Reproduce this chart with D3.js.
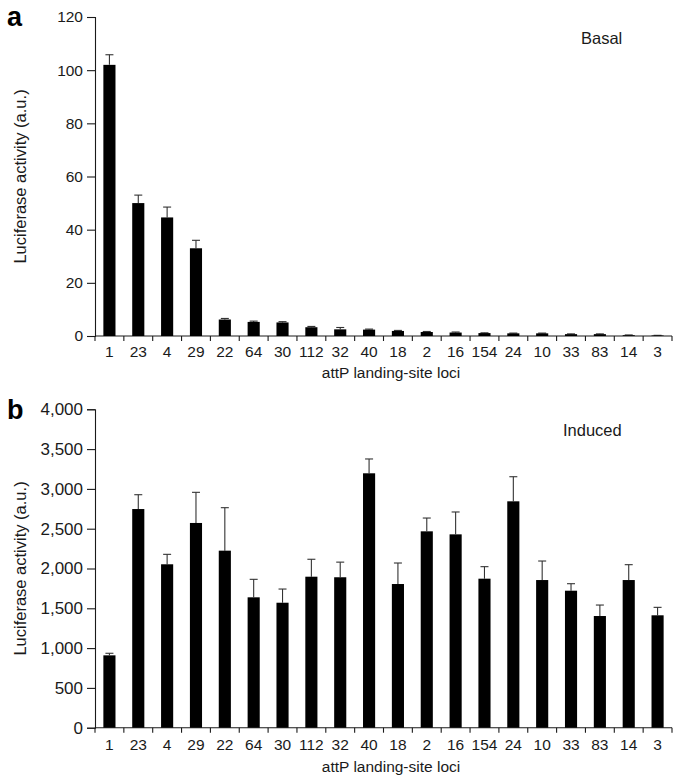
<!DOCTYPE html>
<html><head><meta charset="utf-8">
<script src="https://cdn.jsdelivr.net/npm/d3@7"></script>
<style>
html,body{margin:0;padding:0;background:#fff;}
svg{display:block;font-family:"Liberation Sans",Arial,Helvetica,sans-serif;}
</style></head>
<body>
<svg id="c" width="680" height="784"></svg>
<script>
const loci = ["1","23","4","29","22","64","30","112","32","40","18","2","16","154","24","10","33","83","14","3"];
const basalValues = [102,50,44.6,33,6.2,5.3,5.1,3.3,2.5,2.4,1.9,1.5,1.3,1.1,1.0,1.0,0.7,0.7,0.3,0.2];
const basalErrors = [3.8,3,3.9,3,0.4,0.3,0.3,0.3,0.7,0.2,0.2,0.2,0.2,0.1,0.1,0.1,0.1,0.1,0.1,0.05];
const inducedValues = [909,2747,2053,2572,2224,1638,1570,1897,1890,3196,1805,2467,2429,1872,2844,1855,1721,1403,1855,1412];
const inducedErrors = [26,180,125,385,540,226,172,219,190,180,264,167,281,151,309,239,88,138,193,100];
const basalTicks = [0,20,40,60,80,100,120];
const inducedTicks = [0,500,1000,1500,2000,2500,3000,3500,4000];

const svg = d3.select("#c");
const ink = "#1a1a1a";

function panel(cfg){
  const g = svg.append("g");
  const x = d3.scaleBand().domain(loci).range([95, 672]).paddingInner(0.58).paddingOuter(0.29);
  const xb = d3.scaleBand().domain(loci).range([95, 672]).padding(0);
  const y = d3.scaleLinear().domain([0, cfg.max]).range([cfg.y0, cfg.y1]);

  // y axis
  const ya = g.append("g").attr("transform","translate(95,0)")
    .call(d3.axisLeft(y).tickValues(cfg.ticks).tickSize(8).tickPadding(4).tickFormat(d3.format(cfg.fmt)));
  ya.select(".domain").attr("stroke",ink).attr("stroke-width",1.1);
  ya.selectAll(".tick line").attr("stroke",ink).attr("stroke-width",1.1);
  ya.selectAll("text").attr("fill",ink).style("font-size",cfg.ytfs+"px");

  // x axis
  g.append("line").attr("x1",95).attr("x2",672).attr("y1",y(0)).attr("y2",y(0))
    .attr("stroke",ink).attr("stroke-width",1.1);
  const bounds = loci.map(d=>xb(d)).concat([xb.range()[1]]);
  g.selectAll(".xt").data(bounds).join("line")
    .attr("x1",d=>d).attr("x2",d=>d).attr("y1",y(0)).attr("y2",y(0)+5)
    .attr("stroke",ink).attr("stroke-width",1.1);
  g.selectAll(".xl").data(loci).join("text")
    .attr("x",d=>xb(d)+xb.bandwidth()/2).attr("y",y(0)+cfg.xlDy)
    .attr("text-anchor","middle").attr("fill",ink).style("font-size","15.5px").text(d=>d);

  // error bars
  const eg = g.append("g");
  loci.forEach((d,i)=>{
    const cx = x(d)+x.bandwidth()/2;
    const top = y(cfg.vals[i]+cfg.errs[i]);
    eg.append("line").attr("x1",cx).attr("x2",cx).attr("y1",y(cfg.vals[i])).attr("y2",top)
      .attr("stroke","#333").attr("stroke-width",1.1);
    eg.append("line").attr("x1",cx-4).attr("x2",cx+4).attr("y1",top).attr("y2",top)
      .attr("stroke","#333").attr("stroke-width",1.1);
  });

  // bars
  g.selectAll(".bar").data(cfg.vals).join("rect")
    .attr("x",(d,i)=>x(loci[i])).attr("width",x.bandwidth())
    .attr("y",d=>y(d)).attr("height",d=>y(0)-y(d)).attr("fill","#000");

  // titles
  g.append("text").attr("x",391).attr("y",y(0)+cfg.xtDy).attr("text-anchor","middle")
    .attr("fill",ink).style("font-size","15.5px").text("attP landing-site loci");
  g.append("text").attr("transform",`translate(26,${(cfg.y0+cfg.y1)/2}) rotate(-90)`)
    .attr("text-anchor","middle").attr("fill",ink).style("font-size","16.5px").text("Luciferase activity (a.u.)");
  g.append("text").attr("x",cfg.lblx).attr("y",cfg.y1+27).attr("fill",ink)
    .style("font-size","16.5px").text(cfg.label);
  g.append("text").attr("x",7).attr("y",cfg.y1+cfg.letterDy).attr("fill","#000")
    .style("font-size","27px").style("font-weight","bold").text(cfg.letter);
}

panel({vals:basalValues, errs:basalErrors, max:120, ticks:basalTicks, fmt:"d", y0:336, y1:17,
  ytfs:15.5, label:"Basal", lblx:581, letter:"a", letterDy:9, xlDy:20.5, xtDy:42});
panel({vals:inducedValues, errs:inducedErrors, max:4000, ticks:inducedTicks, fmt:",", y0:727.7, y1:409.3,
  ytfs:17, label:"Induced", lblx:563, letter:"b", letterDy:10, xlDy:22, xtDy:44.5});
</script>
</body></html>
